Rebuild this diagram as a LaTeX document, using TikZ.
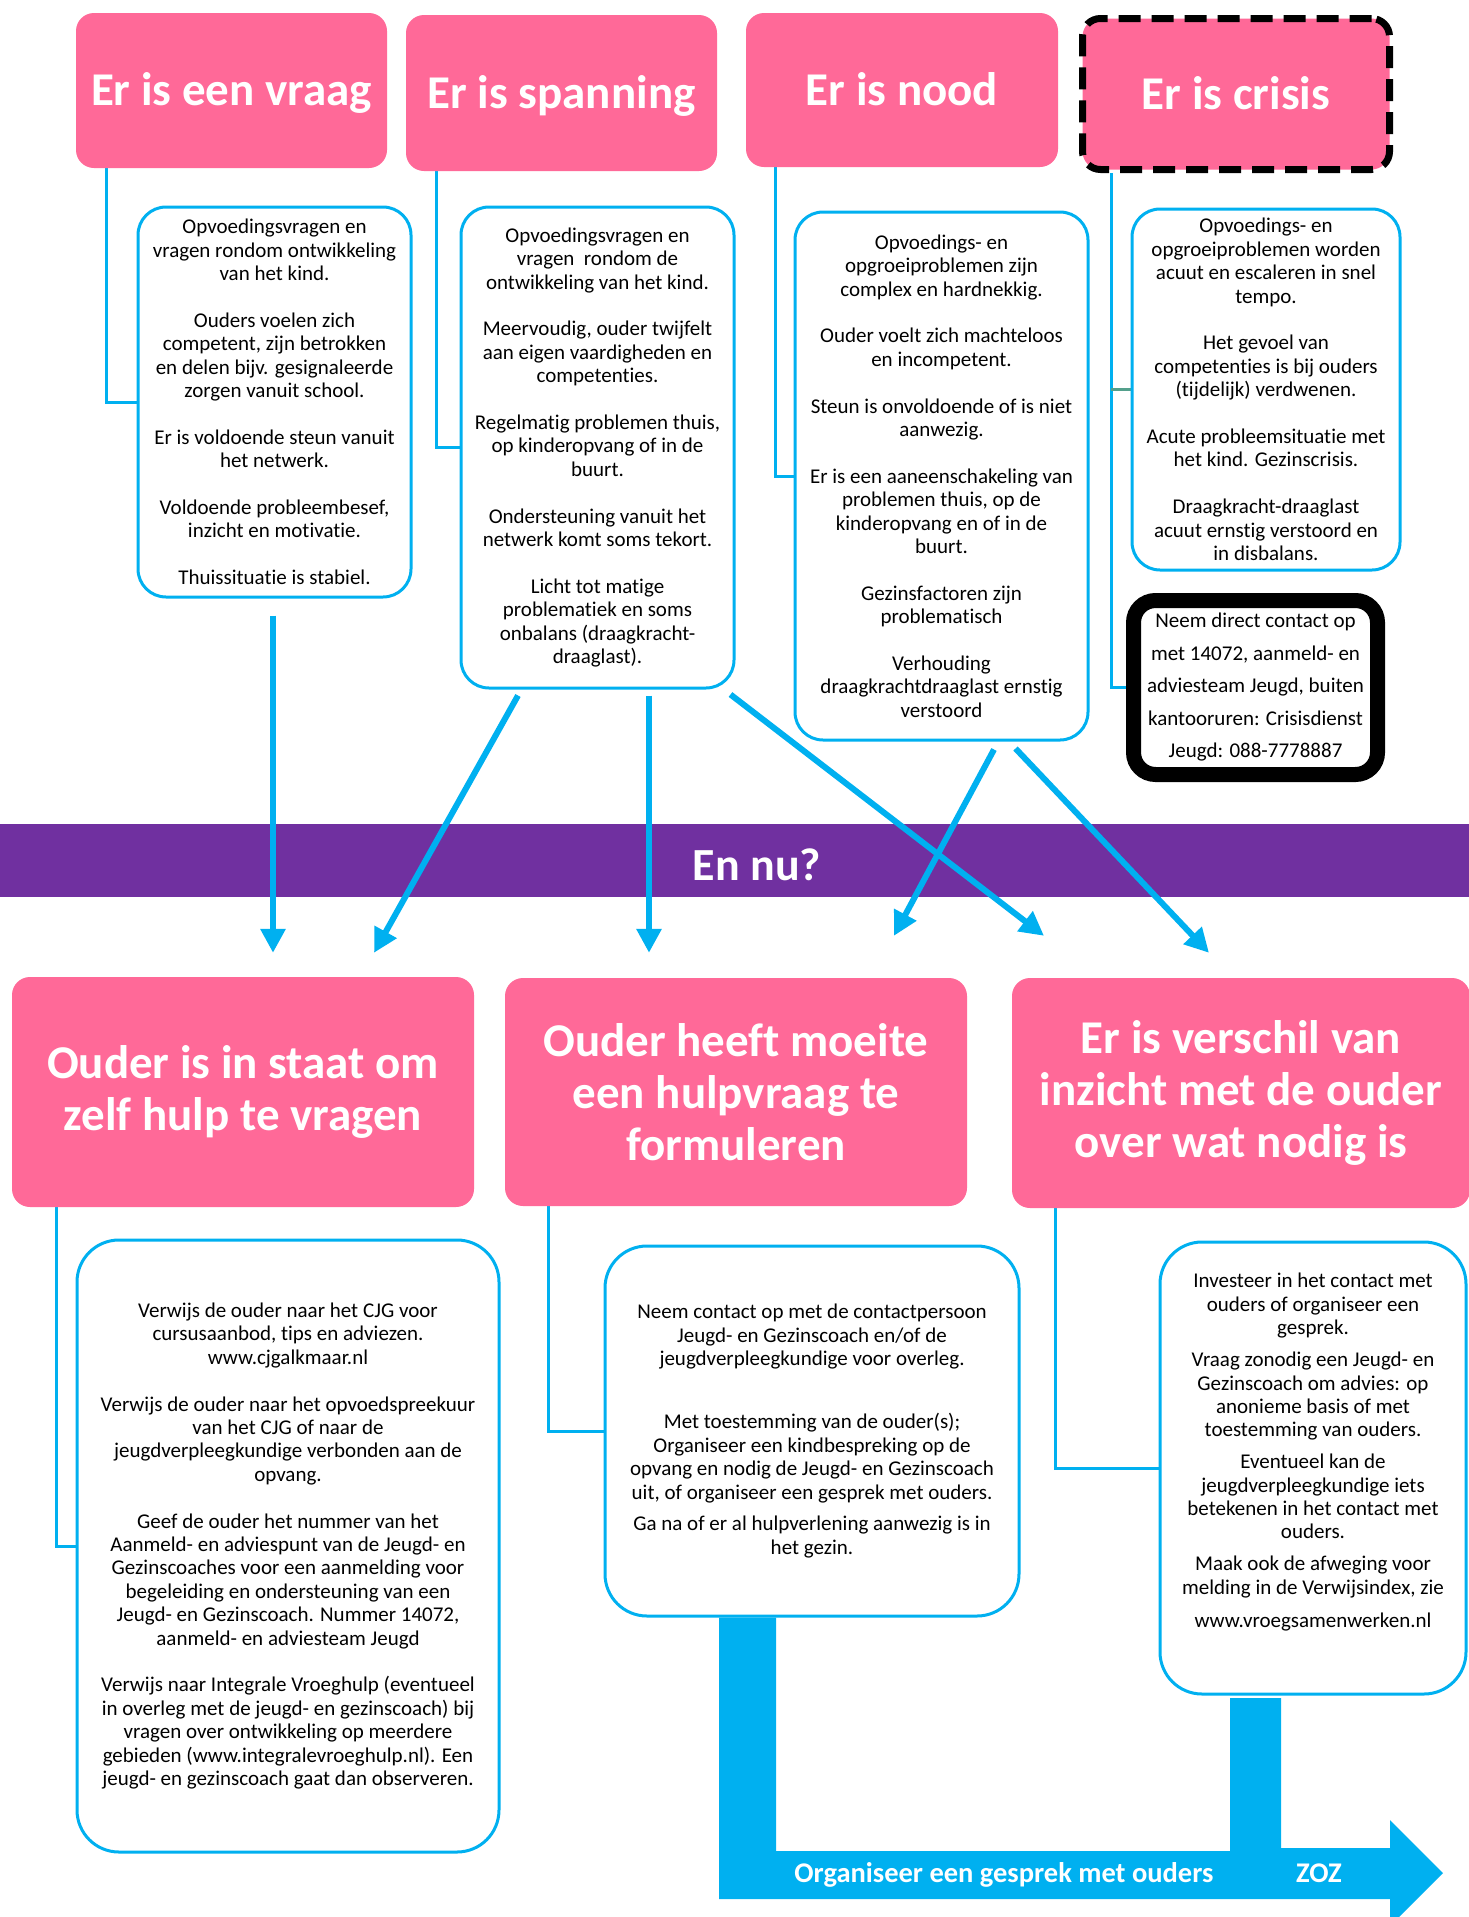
\documentclass[tikz,border=0pt]{standalone}
\usepackage{fontspec}
\setmainfont{Carlito}[Ligatures=NoCommon]
\usetikzlibrary{arrows.meta}
\definecolor{pinkc}{RGB}{255,105,152}
\definecolor{bluec}{RGB}{0,176,240}
\definecolor{purplec}{RGB}{112,48,160}
\definecolor{tealc}{RGB}{84,160,140}
\newcommand\bodyfont{\fontsize{21}{23.4}\selectfont}
\newcommand\hdrfont{\bfseries\fontsize{47}{52}\selectfont}
\pgfdeclarelayer{bg}
\pgfdeclarelayer{bgbase}
\pgfsetlayers{bgbase,bg,main}
\begin{document}
\begin{tikzpicture}[x=1pt,y=-1pt,
  hdr/.style={fill=pinkc, rounded corners=18pt, text=white, font=\hdrfont, align=center, inner sep=0pt},
  tbox/.style={draw=bluec, line width=3pt, fill=white, rounded corners=28pt, align=center, font=\bodyfont, inner sep=0pt},
  bbox/.style={tbox, rounded corners=42pt},
  conn/.style={draw=bluec, line width=3pt},
  arr/.style={draw=bluec, line width=6pt, -{Triangle[length=24pt,width=24pt]}},
  bartext/.style={text=white, font=\bfseries\fontsize{28.5}{30}\selectfont, text height=18.4pt, text depth=0pt, inner sep=0pt}
]
\useasboundingbox (0,0) rectangle (1469,1917);
\begin{pgfonlayer}{bgbase}
\fill[white] (0,0) rectangle (1469,1917);
\end{pgfonlayer}

% band
\fill[purplec] (0,824) rectangle (1469,897);
\node[text=white, font=\bfseries\fontsize{46}{50}\selectfont, text height=29.6pt, text depth=0pt, inner sep=0pt] (ennu) at (757,866) {En nu?};

% top headers
\node[hdr, minimum width=311pt, minimum height=155pt, text height=30.3pt, text depth=0pt] (H1) at (231.5,90.5) {Er is een vraag};
\node[hdr, minimum width=311pt, minimum height=156pt, text height=30.3pt, text depth=0pt] (H2) at (561.5,93) {Er is spanning};
\node[hdr, minimum width=312pt, minimum height=154pt, text height=30.3pt, text depth=0pt] (H3) at (902,90) {Er is nood};
\node[hdr, draw=black, line width=7pt, dash pattern=on 22pt off 11pt, minimum width=307pt, minimum height=151pt, text height=30.3pt, text depth=0pt] (H4) at (1236,94) {Er is crisis};

% top text boxes
\node[tbox, minimum width=273pt, minimum height=390pt] (A) at (274.5,402) {Opvoedingsvragen en\\vragen rondom ontwikkeling\\van het kind.\\[23.4pt]
Ouders voelen zich\\competent, zijn betrokken\\en delen bijv. gesignaleerde\\zorgen vanuit school.\\[23.4pt]
Er is voldoende steun vanuit\\het netwerk.\\[23.4pt]
Voldoende probleembesef,\\inzicht en motivatie.\\[23.4pt]
Thuissituatie is stabiel.};

\node[tbox, minimum width=273pt, minimum height=481pt] (B) at (597.5,447.5) {Opvoedingsvragen en\\vragen\ \ rondom de\\ontwikkeling van het kind.\\[23.4pt]
Meervoudig, ouder twijfelt\\aan eigen vaardigheden en\\competenties.\\[23.4pt]
Regelmatig problemen thuis,\\op kinderopvang of in de\\buurt.\\[23.4pt]
Ondersteuning vanuit het\\netwerk komt soms tekort.\\[23.4pt]
Licht tot matige\\problematiek en soms\\onbalans (draagkracht-\\draaglast).};

\node[tbox, minimum width=293pt, minimum height=528pt] (C) at (941.5,476) {Opvoedings- en\\opgroeiproblemen zijn\\complex en hardnekkig.\\[23.4pt]
Ouder voelt zich machteloos\\en incompetent.\\[23.4pt]
Steun is onvoldoende of is niet\\aanwezig.\\[23.4pt]
Er is een aaneenschakeling van\\problemen thuis, op de\\kinderopvang en of in de\\buurt.\\[23.4pt]
Gezinsfactoren zijn\\problematisch\\[23.4pt]
Verhouding\\draagkrachtdraaglast ernstig\\verstoord};

\node[tbox, minimum width=268pt, minimum height=361pt] (D) at (1266,389.5) {Opvoedings- en\\opgroeiproblemen worden\\acuut en escaleren in snel\\tempo.\\[23.4pt]
Het gevoel van\\competenties is bij ouders\\(tijdelijk) verdwenen.\\[23.4pt]
Acute probleemsituatie met\\het kind. Gezinscrisis.\\[23.4pt]
Draagkracht-draaglast\\acuut ernstig verstoord en\\in disbalans.};

\node[draw=black, line width=15pt, fill=white, rounded corners=22pt, minimum width=244pt, minimum height=174pt, align=center, font=\fontsize{21}{32.5}\selectfont, inner sep=0pt] (E) at (1255.5,687.5) {Neem direct contact op\\met 14072, aanmeld- en\\adviesteam Jeugd, buiten\\kantooruren: Crisisdienst\\Jeugd: 088-7778887};

% bottom headers
\node[hdr, minimum width=462pt, minimum height=230pt] (H5) at (243,1092) {Ouder is in staat om\\zelf hulp te vragen};
\node[hdr, minimum width=462pt, minimum height=228pt] (H6) at (736,1092) {Ouder heeft moeite\\een hulpvraag te\\formuleren};
\node[hdr, minimum width=458pt, minimum height=230pt] (H7) at (1241,1093) {Er is verschil van\\inzicht met de ouder\\over wat nodig is};

% bottom text boxes
\node[bbox, minimum width=422pt, minimum height=612pt] (F) at (288,1546) {Verwijs de ouder naar het CJG voor\\cursusaanbod, tips en adviezen.\\www.cjgalkmaar.nl\\[23.4pt]
Verwijs de ouder naar het opvoedspreekuur\\van het CJG of naar de\\jeugdverpleegkundige verbonden aan de\\opvang.\\[23.4pt]
Geef de ouder het nummer van het\\Aanmeld- en adviespunt van de Jeugd- en\\Gezinscoaches voor een aanmelding voor\\begeleiding en ondersteuning van een\\Jeugd- en Gezinscoach. Nummer 14072,\\aanmeld- en adviesteam Jeugd\\[23.4pt]
Verwijs naar Integrale Vroeghulp (eventueel\\in overleg met de jeugd- en gezinscoach) bij\\vragen over ontwikkeling op meerdere\\gebieden (www.integralevroeghulp.nl). Een\\jeugd- en gezinscoach gaat dan observeren.};

\node[bbox, minimum width=414pt, minimum height=370pt] (G) at (812,1431) {Neem contact op met de contactpersoon\\Jeugd- en Gezinscoach en/of de\\jeugdverpleegkundige voor overleg.\\[40pt]
Met toestemming van de ouder(s);\\Organiseer een kindbespreking op de\\opvang en nodig de Jeugd- en Gezinscoach\\uit, of organiseer een gesprek met ouders.\\[8.5pt]
Ga na of er al hulpverlening aanwezig is in\\het gezin.};

\node[bbox, minimum width=306pt, minimum height=452pt] (I) at (1313,1468) {};
\node[align=center, font=\bodyfont, inner sep=0pt] (Itext) at (1313,1452) {Investeer in het contact met\\ouders of organiseer een\\gesprek.\\[8.5pt]
Vraag zonodig een Jeugd- en\\Gezinscoach om advies: op\\anonieme basis of met\\toestemming van ouders.\\[8.5pt]
Eventueel kan de\\jeugdverpleegkundige iets\\betekenen in het contact met\\ouders.\\[8.5pt]
Maak ook de afweging voor\\melding in de Verwijsindex, zie\\[9.5pt]
www.vroegsamenwerken.nl};

% connectors (behind)
\coordinate (h4x) at ([shift={(32,0)}]H4.south west);
\begin{pgfonlayer}{bg}
\draw[conn] ([shift={(31,0)}]H1.south west) |- (A.west);
\draw[conn] ([shift={(31,0)}]H2.south west) |- (B.west);
\draw[conn] ([shift={(30,0)}]H3.south west) |- (C.west);
\draw[conn] (h4x) |- (E.west);
\draw[conn, draw=tealc] (h4x |- D.west) -- (D.west);
\draw[conn] ([shift={(45,0)}]H5.south west) |- (F.west);
\draw[conn] ([shift={(44,0)}]H6.south west) |- (G.west);
\draw[conn] ([shift={(44,0)}]H7.south west) |- (I.west);
% big L arrow
\fill[bluec] (G.south -| 719,0) -- (719,1899) -- (1390,1899) -- (1390,1926) -- (1443,1873) -- (1390,1820) -- (1390,1848) -- (1281,1848) -- (1281,1698) -- (1230,1698) -- (1230,1851) -- (776,1851) -- (G.south -| 776,0) -- cycle;
\end{pgfonlayer}

\node[bartext] (org) at (1004,1873) {Organiseer een gesprek met ouders};
\node[bartext] (zoz) at (1319,1873) {ZOZ};

% arrows
\draw[arr] ([shift={(-1.5,17)}]A.south) -- ([shift={(30,-24)}]H5.north);
\draw[arr] ([shift={(-79.5,6)}]B.south) -- ([shift={(131,-24)}]H5.north);
\draw[arr] ([shift={(51.5,6)}]B.south) -- ([shift={(-87,-25)}]H6.north);
\draw[arr] ([shift={(133,5)}]B.south) -- ([shift={(-197,-42)}]H7.north);
\draw[arr] ([shift={(52.5,8)}]C.south) -- ([shift={(158,-42)}]H6.north);
\draw[arr] ([shift={(74,7)}]C.south) -- ([shift={(-32,-25)}]H7.north);
\end{tikzpicture}
\end{document}
